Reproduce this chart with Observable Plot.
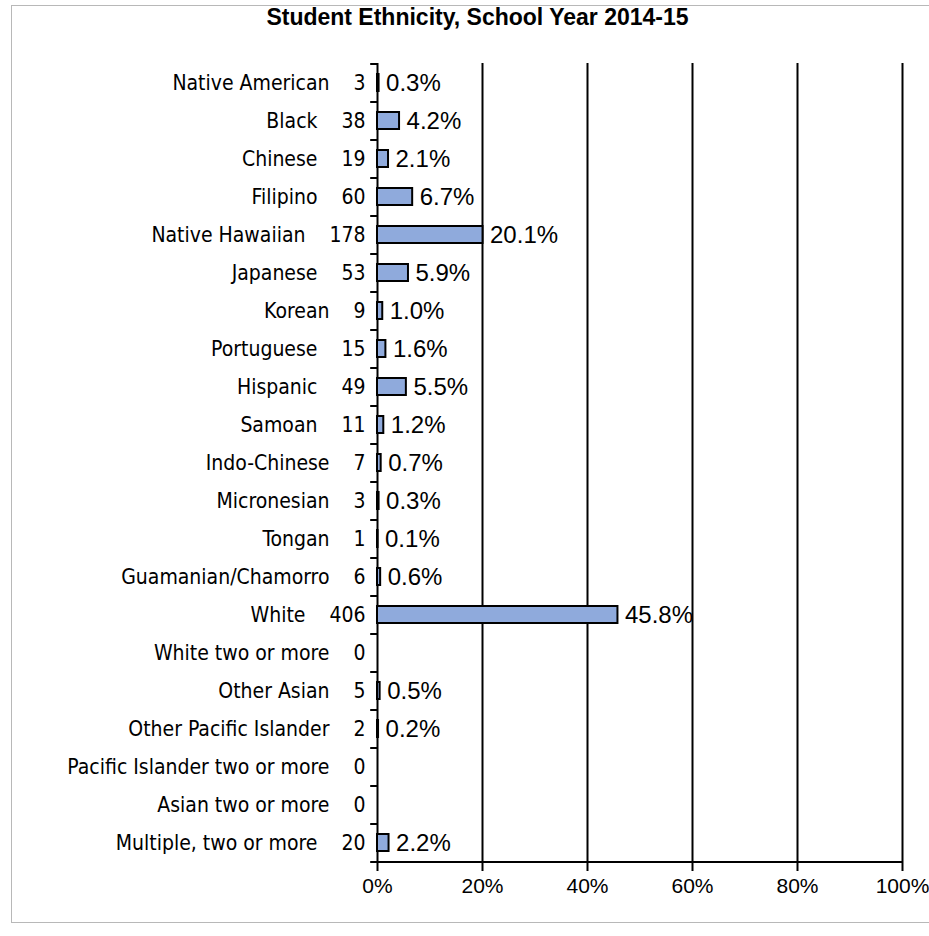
<!DOCTYPE html>
<html><head><meta charset="utf-8">
<script src="https://cdn.jsdelivr.net/npm/d3@7"></script>
<script src="https://cdn.jsdelivr.net/npm/@observablehq/plot@0.6"></script>
<style>
body{margin:0;background:#fff;}
#wrap{position:relative;width:929px;height:936px;overflow:hidden;background:#fff;}
#frame{position:absolute;left:11px;top:5px;width:940px;height:916px;border:1.5px solid #b8b8b8;}
#title{position:absolute;top:4px;left:0;width:955px;text-align:center;font:bold 23px "Liberation Sans",Arial,sans-serif;color:#000;line-height:26px;}
#chart{position:absolute;top:40px;left:0;}
</style></head>
<body><div id="wrap"><div id="frame"></div><div id="title">Student Ethnicity, School Year 2014-15</div><div id="chart"></div></div>
<script>
const categories = ["Native American","Black","Chinese","Filipino","Native Hawaiian","Japanese","Korean","Portuguese","Hispanic","Samoan","Indo-Chinese","Micronesian","Tongan","Guamanian/Chamorro","White","White two or more","Other Asian","Other Pacific Islander","Pacific Islander two or more","Asian two or more","Multiple, two or more"];
const counts = [3,38,19,60,178,53,9,15,49,11,7,3,1,6,406,0,5,2,0,0,20];
const percents = [0.3,4.2,2.1,6.7,20.1,5.9,1.0,1.6,5.5,1.2,0.7,0.3,0.1,0.6,45.8,0,0.5,0.2,0,0,2.2];
const xTicks = [0,20,40,60,80,100];

const data = categories.map((c,i)=>({category:c, count:counts[i], pct:percents[i]}));
const labelOf = new Map(data.map(d=>[d.category, `${d.category}\u00a0\u00a0\u00a0\u00a0${d.count}`]));
const H = 896, MT = 23, MB = 74;
const step = (H - MT - MB) / categories.length;
const last = categories[categories.length-1];

const plot = Plot.plot({
  width: 929, height: H,
  marginLeft: 377, marginRight: 27, marginTop: MT, marginBottom: MB,
  x: {domain: [0, 100]},
  y: {domain: categories, paddingInner: 0.55, paddingOuter: 0.275},
  style: {background: "transparent", color: "#000"},
  marks: [
    Plot.gridX(xTicks, {stroke: "#000", strokeOpacity: 1, strokeWidth: 2}),
    Plot.ruleY(categories, {y: d => d, x1: -1.3, x2: 0, dy: step/2, stroke: "#000", strokeWidth: 2}),
    Plot.ruleY([categories[0]], {y: d => d, x1: -1.3, x2: 0, dy: -step/2, stroke: "#000", strokeWidth: 2}),
    Plot.ruleY([last], {y: d => d, x1: 0, x2: 100, dy: step/2, stroke: "#000", strokeWidth: 2}),
    Plot.barX(data, {x: "pct", y: "category", fill: "#8faadc", stroke: "#000", strokeWidth: 2}),
    Plot.text(data.filter(d => d.pct > 0), {x: "pct", y: "category", text: d => d.pct.toFixed(1) + "%", textAnchor: "start", dx: 7, fontSize: 24, fontFamily: "Liberation Sans, Arial, sans-serif", fill: "#000"}),
    Plot.axisX({ticks: xTicks, tickFormat: d => d + "%", tickSize: 9, tickPadding: 7, fontSize: 21, fontFamily: "Liberation Sans, Arial, sans-serif", stroke: "#000", strokeWidth: 2, label: null}),
    Plot.axisY({tickSize: 0, tickPadding: 12, tickFormat: d => labelOf.get(d), fontSize: 21, fontFamily: "DejaVu Sans Condensed, DejaVu Sans, sans-serif", label: null})
  ]
});
document.getElementById("chart").appendChild(plot);
</script>
</body></html>
